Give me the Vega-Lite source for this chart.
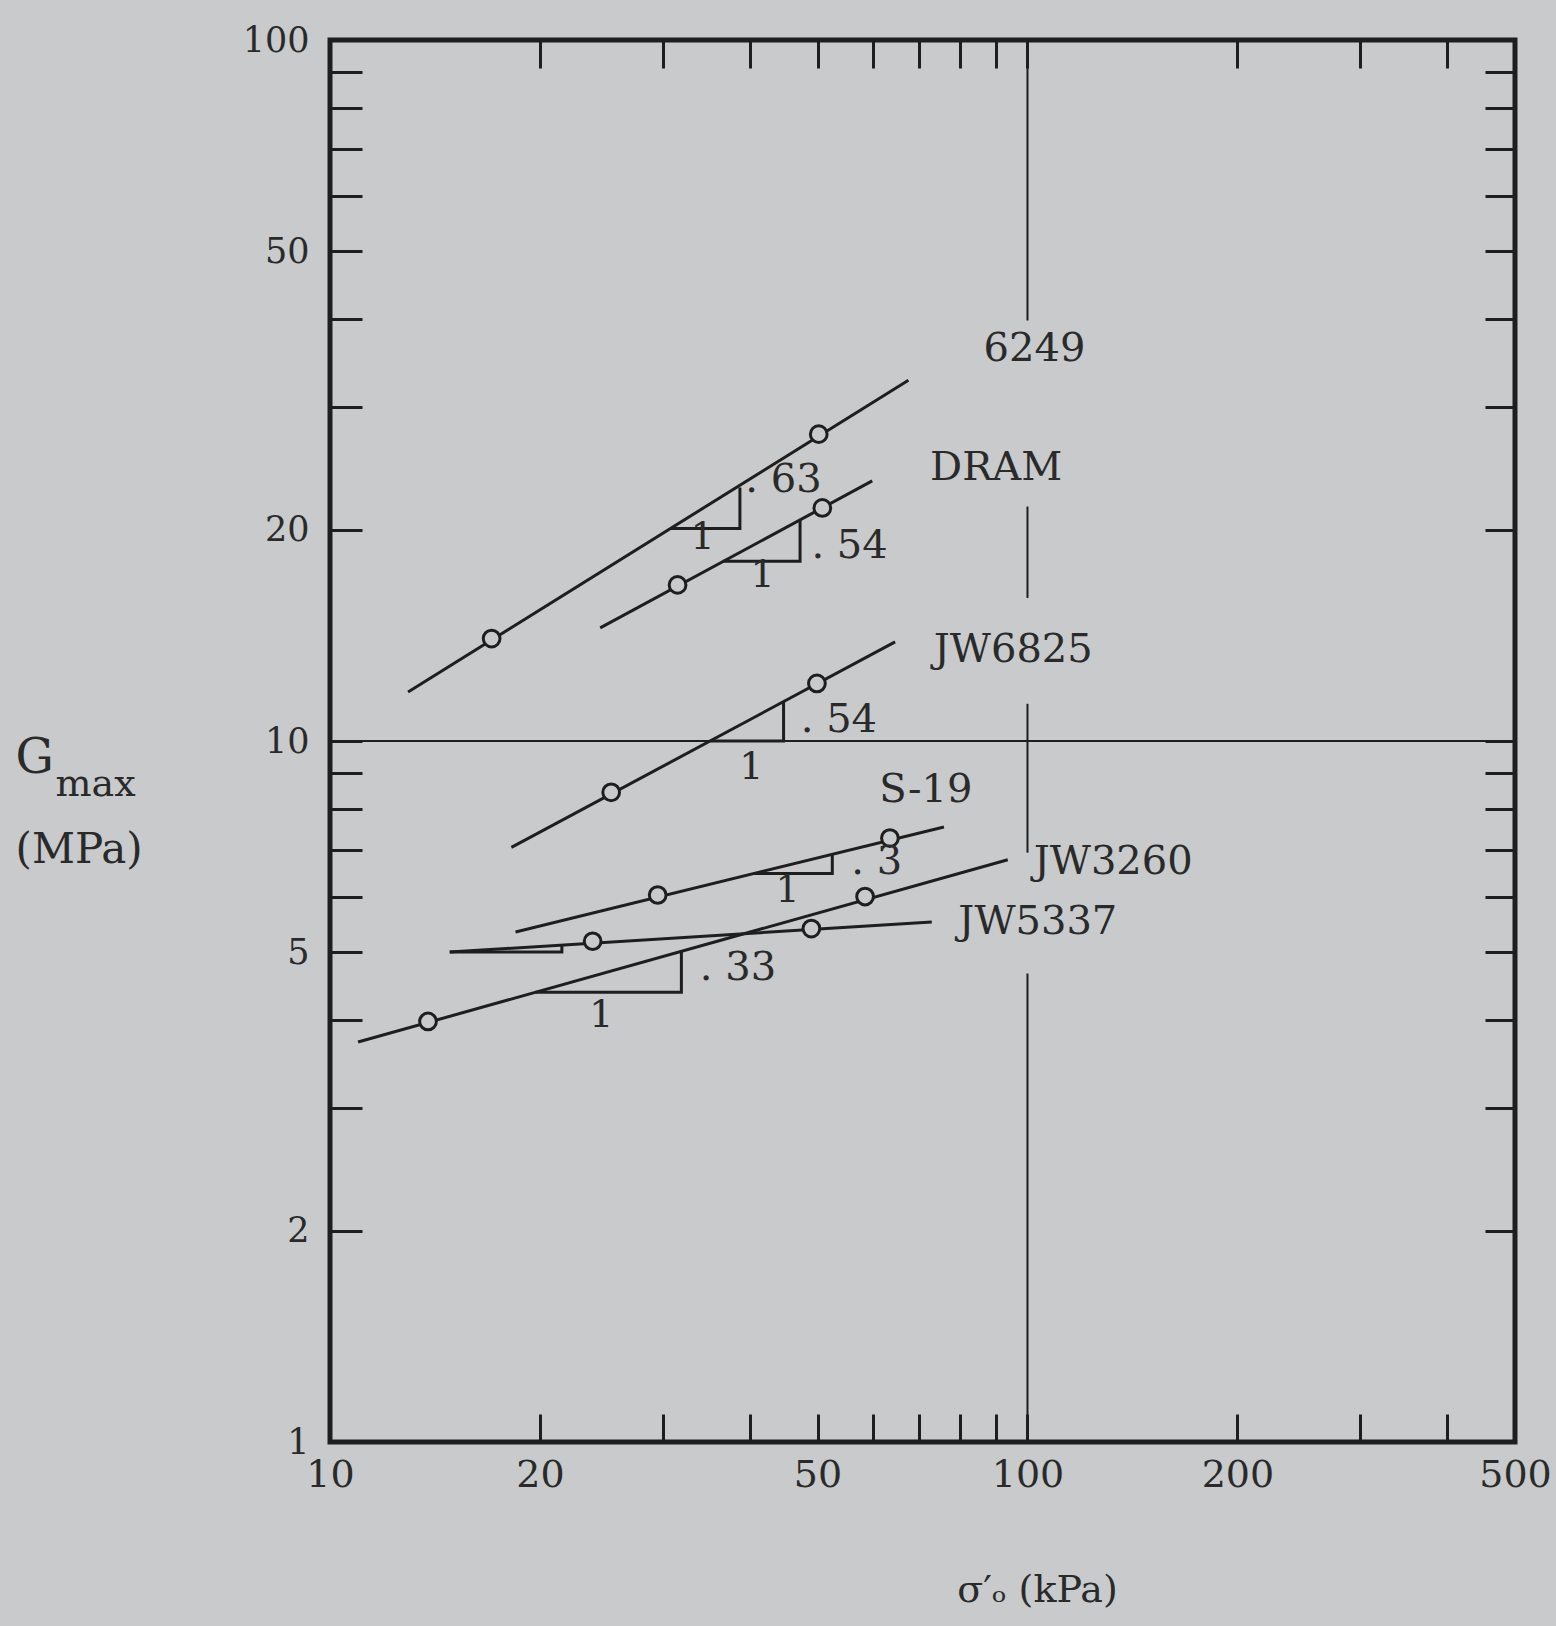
{
  "$schema": "https://vega.github.io/schema/vega-lite/v6.json",
  "width": 1185,
  "height": 1402,
  "autosize": {"type": "none"},
  "padding": {"left": 330, "top": 40, "right": 41, "bottom": 184},
  "background": "#c8cacc",
  "config": {
    "view": {"stroke": "#1e1e1e", "strokeWidth": 5, "fill": "#c8cacc"},
    "font": "DejaVu Serif",
    "axis": {
      "domain": false,
      "grid": false,
      "tickColor": "#1e1e1e",
      "tickWidth": 3,
      "labelColor": "#2a2a2a",
      "labelFont": "DejaVu Serif",
      "titleFont": "DejaVu Serif",
      "titleFontWeight": "normal",
      "titleColor": "#2a2a2a",
      "labelFlush": false,
      "labelOverlap": false
    }
  },
  "datasets": {
    "rules": [
      {"x": 10, "x2": 500, "y": 10, "y2": 10},
      {"x": 100, "x2": 100, "y": 100, "y2": 39.8},
      {"x": 100, "x2": 100, "y": 21.6, "y2": 16.0},
      {"x": 100, "x2": 100, "y": 11.3, "y2": 6.93},
      {"x": 100, "x2": 100, "y": 4.66, "y2": 1}
    ],
    "lines": [
      {"s": "6249", "x": 12.94, "y": 11.75}, {"s": "6249", "x": 67.5, "y": 32.7},
      {"s": "DRAM", "x": 24.4, "y": 14.5}, {"s": "DRAM", "x": 59.9, "y": 23.5},
      {"s": "JW6825", "x": 18.2, "y": 7.05}, {"s": "JW6825", "x": 64.6, "y": 13.85},
      {"s": "S-19", "x": 18.45, "y": 5.34}, {"s": "S-19", "x": 75.9, "y": 7.54},
      {"s": "JW3260", "x": 10.97, "y": 3.72}, {"s": "JW3260", "x": 93.7, "y": 6.77},
      {"s": "JW5337", "x": 14.85, "y": 5.0}, {"s": "JW5337", "x": 72.9, "y": 5.52}
    ],
    "triangles": [
      {"t": "6249", "o": 1, "x": 30.8, "y": 20.1}, {"t": "6249", "o": 2, "x": 38.7, "y": 20.1}, {"t": "6249", "o": 3, "x": 38.7, "y": 23.0},
      {"t": "DRAM", "o": 1, "x": 36.6, "y": 18.05}, {"t": "DRAM", "o": 2, "x": 47.2, "y": 18.05}, {"t": "DRAM", "o": 3, "x": 47.2, "y": 20.7},
      {"t": "JW6825", "o": 1, "x": 35.1, "y": 10}, {"t": "JW6825", "o": 2, "x": 44.7, "y": 10}, {"t": "JW6825", "o": 3, "x": 44.7, "y": 11.4},
      {"t": "S-19", "o": 1, "x": 40.5, "y": 6.47}, {"t": "S-19", "o": 2, "x": 52.5, "y": 6.47}, {"t": "S-19", "o": 3, "x": 52.5, "y": 6.89},
      {"t": "JW3260", "o": 1, "x": 19.7, "y": 4.38}, {"t": "JW3260", "o": 2, "x": 31.9, "y": 4.38}, {"t": "JW3260", "o": 3, "x": 31.9, "y": 5.02},
      {"t": "JW5337", "o": 1, "x": 14.85, "y": 5.0}, {"t": "JW5337", "o": 2, "x": 21.5, "y": 5.0}, {"t": "JW5337", "o": 3, "x": 21.5, "y": 5.12}
    ],
    "points": [
      {"s": "6249", "x": 17.05, "y": 14.0}, {"s": "6249", "x": 50.2, "y": 27.4},
      {"s": "DRAM", "x": 31.5, "y": 16.7}, {"s": "DRAM", "x": 50.8, "y": 21.5},
      {"s": "JW6825", "x": 25.3, "y": 8.45}, {"s": "JW6825", "x": 49.9, "y": 12.08},
      {"s": "S-19", "x": 29.5, "y": 6.03}, {"s": "S-19", "x": 63.5, "y": 7.27},
      {"s": "JW3260", "x": 13.82, "y": 3.98}, {"s": "JW3260", "x": 58.5, "y": 6.0},
      {"s": "JW5337", "x": 23.8, "y": 5.18}, {"s": "JW5337", "x": 49.0, "y": 5.4}
    ],
    "labels": [
      {"t": "6249", "x": 86.5, "y": 36.3},
      {"t": "DRAM", "x": 72.5, "y": 24.5},
      {"t": "JW6825", "x": 73.4, "y": 13.5},
      {"t": "S-19", "x": 61.3, "y": 8.5},
      {"t": "JW3260", "x": 102.1, "y": 6.72},
      {"t": "JW5337", "x": 79.6, "y": 5.52},
      {"t": ". 63", "x": 39.4, "y": 23.6},
      {"t": ". 54", "x": 49.0, "y": 19.0},
      {"t": ". 54", "x": 47.3, "y": 10.7},
      {"t": ". 3", "x": 55.9, "y": 6.72},
      {"t": ". 33", "x": 33.9, "y": 4.74}
    ],
    "ones": [
      {"t": "1", "x": 34.2, "y": 19.5},
      {"t": "1", "x": 41.7, "y": 17.2},
      {"t": "1", "x": 40.2, "y": 9.16},
      {"t": "1", "x": 45.3, "y": 6.11},
      {"t": "1", "x": 24.5, "y": 4.05}
    ]
  },
  "resolve": {"axis": {"x": "independent", "y": "independent"}},
  "layer": [
    {
      "data": {"name": "rules"},
      "mark": {"type": "rule", "color": "#1e1e1e", "strokeWidth": 2},
      "encoding": {
        "x": {
          "field": "x", "type": "quantitative",
          "scale": {"type": "log", "domain": [10, 500], "nice": false},
          "axis": {
            "orient": "bottom",
            "values": [10, 20, 30, 40, 50, 60, 70, 80, 90, 100, 200, 300, 400, 500],
            "format": "d",
            "labelExpr": "indexof([10, 20, 50, 100, 200, 500], datum.value) >= 0 ? datum.label : ''",
            "tickSize": -28,
            "labelPadding": 42,
            "labelFontSize": 38,
            "title": "σ′ₒ (kPa)",
            "titleFontSize": 38,
            "titleX": 707,
            "titleY": 148,
            "titleAlign": "center",
            "titleBaseline": "middle"
          }
        },
        "x2": {"field": "x2"},
        "y": {
          "field": "y", "type": "quantitative",
          "scale": {"type": "log", "domain": [1, 100], "nice": false},
          "axis": {
            "orient": "left",
            "values": [1, 2, 3, 4, 5, 6, 7, 8, 9, 10, 20, 30, 40, 50, 60, 70, 80, 90, 100],
            "format": "d",
            "labelExpr": "indexof([1, 2, 5, 10, 20, 50, 100], datum.value) >= 0 ? datum.label : ''",
            "tickSize": -32,
            "labelPadding": 53,
            "labelFontSize": 35,
            "title": "(MPa)",
            "titleFontSize": 42,
            "titleAngle": 0,
            "titleAlign": "left",
            "titleBaseline": "alphabetic",
            "titleX": -315,
            "titleY": 822
          }
        },
        "y2": {"field": "y2"}
      }
    },
    {
      "data": {"name": "lines"},
      "mark": {"type": "line", "color": "#1e1e1e", "strokeWidth": 3},
      "encoding": {
        "x": {
          "field": "x", "type": "quantitative",
          "scale": {"type": "log", "domain": [10, 500], "nice": false},
          "axis": {
            "orient": "top",
            "values": [20, 30, 40, 50, 60, 70, 80, 90, 100, 200, 300, 400],
            "labels": false,
            "tickSize": -28,
            "title": "max",
            "titleFontSize": 38,
            "titleAngle": 0,
            "titleAlign": "left",
            "titleBaseline": "alphabetic",
            "titleX": -275,
            "titleY": 755
          }
        },
        "y": {
          "field": "y", "type": "quantitative",
          "scale": {"type": "log", "domain": [1, 100], "nice": false},
          "axis": {
            "orient": "right",
            "values": [2, 3, 4, 5, 6, 7, 8, 9, 10, 20, 30, 40, 50, 60, 70, 80, 90],
            "labels": false,
            "tickSize": -30,
            "title": "G",
            "titleFontSize": 48,
            "titleAngle": 0,
            "titleAlign": "left",
            "titleBaseline": "alphabetic",
            "titleX": -1500,
            "titleY": 732
          }
        },
        "detail": {"field": "s"}
      }
    },
    {
      "data": {"name": "triangles"},
      "mark": {"type": "line", "color": "#1e1e1e", "strokeWidth": 3},
      "encoding": {
        "x": {"field": "x", "type": "quantitative", "scale": {"type": "log", "domain": [10, 500], "nice": false}, "axis": null},
        "y": {"field": "y", "type": "quantitative", "scale": {"type": "log", "domain": [1, 100], "nice": false}, "axis": null},
        "detail": {"field": "t"},
        "order": {"field": "o"}
      }
    },
    {
      "data": {"name": "points"},
      "mark": {"type": "point", "shape": "circle", "filled": true, "fill": "#c8cacc", "stroke": "#1e1e1e", "strokeWidth": 3, "size": 280, "opacity": 1},
      "encoding": {
        "x": {"field": "x", "type": "quantitative", "scale": {"type": "log", "domain": [10, 500], "nice": false}, "axis": null},
        "y": {"field": "y", "type": "quantitative", "scale": {"type": "log", "domain": [1, 100], "nice": false}, "axis": null}
      }
    },
    {
      "data": {"name": "labels"},
      "mark": {"type": "text", "align": "left", "baseline": "middle", "font": "DejaVu Serif", "fontSize": 40, "color": "#2a2a2a"},
      "encoding": {
        "x": {"field": "x", "type": "quantitative", "scale": {"type": "log", "domain": [10, 500], "nice": false}, "axis": null},
        "y": {"field": "y", "type": "quantitative", "scale": {"type": "log", "domain": [1, 100], "nice": false}, "axis": null},
        "text": {"field": "t"}
      }
    },
    {
      "data": {"name": "ones"},
      "mark": {"type": "text", "align": "center", "baseline": "middle", "font": "DejaVu Serif", "fontSize": 38, "color": "#2a2a2a"},
      "encoding": {
        "x": {"field": "x", "type": "quantitative", "scale": {"type": "log", "domain": [10, 500], "nice": false}, "axis": null},
        "y": {"field": "y", "type": "quantitative", "scale": {"type": "log", "domain": [1, 100], "nice": false}, "axis": null},
        "text": {"field": "t"}
      }
    }
  ]
}
